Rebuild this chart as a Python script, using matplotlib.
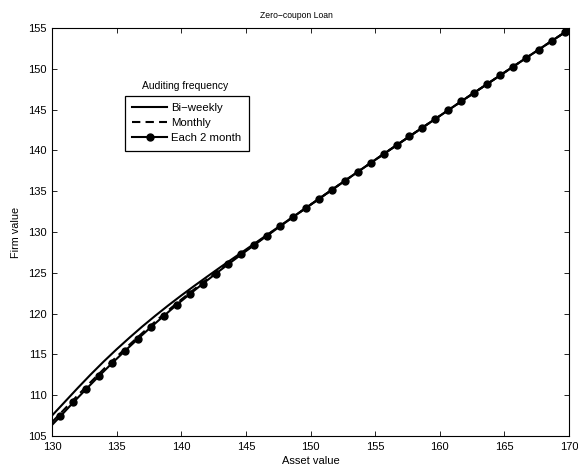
import numpy as np
import matplotlib
matplotlib.use("Agg")
import matplotlib.pyplot as plt

plt.rcParams['font.family'] = ['Liberation Sans', 'DejaVu Sans']

# asset value grid for the bi-weekly and monthly curves
asset = list(range(130, 171))

biweekly = [107.50, 109.20, 110.90, 112.55, 114.13, 115.63, 117.06, 118.44, 119.75, 121.01,
            122.22, 123.39, 124.53, 125.66, 126.76, 127.85, 128.95, 130.05, 131.15, 132.24,
            133.35, 134.45, 135.55, 136.65, 137.75, 138.84, 139.93, 141.01, 142.09, 143.16,
            144.23, 145.30, 146.37, 147.43, 148.49, 149.55, 150.61, 151.67, 152.72, 153.77,
            154.82]

monthly = [106.70, 108.35, 110.00, 111.62, 113.20, 114.72, 116.20, 117.64, 119.04, 120.41,
           121.72, 122.98, 124.21, 125.41, 126.58, 127.73, 128.86, 130.00, 131.12, 132.23,
           133.34, 134.45, 135.55, 136.65, 137.75, 138.84, 139.93, 141.01, 142.09, 143.16,
           144.23, 145.30, 146.37, 147.43, 148.49, 149.55, 150.61, 151.67, 152.72, 153.77,
           154.82]

# each-2-month curve: end points plus the marked samples
asset_2m = [130.0, 130.65, 131.65, 132.65, 133.65, 134.65, 135.65, 136.65, 137.65, 138.65,
            139.65, 140.65, 141.65, 142.65, 143.65, 144.65, 145.65, 146.65, 147.65, 148.65,
            149.65, 150.65, 151.65, 152.65, 153.65, 154.65, 155.65, 156.65, 157.65, 158.65,
            159.65, 160.65, 161.65, 162.65, 163.65, 164.65, 165.65, 166.65, 167.65, 168.65,
            169.65, 170.0]
each2month = [106.35, 107.42, 109.12, 110.76, 112.37, 113.93, 115.44, 116.91, 118.34, 119.72,
              121.08, 122.38, 123.64, 124.87, 126.07, 127.25, 128.41, 129.56, 130.70, 131.83,
              132.95, 134.06, 135.17, 136.27, 137.37, 138.46, 139.55, 140.63, 141.71, 142.79,
              143.86, 144.93, 146.00, 147.06, 148.12, 149.18, 150.24, 151.30, 152.35, 153.40,
              154.45, 154.82]

xticks = [130, 135, 140, 145, 150, 155, 160, 165, 170]
yticks = [105, 110, 115, 120, 125, 130, 135, 140, 145, 150, 155]

fig = plt.figure(figsize=(5.78, 4.68), dpi=100)
ax = fig.add_axes([0.09, 0.0684, 0.8946, 0.8718])

ax.plot(asset, biweekly, color='k', lw=1.5, label='Bi\u2212weekly')
ax.plot(asset, monthly, color='k', lw=1.5, ls=(0, (4, 2.5)), label='Monthly')
ax.plot(asset_2m, each2month, color='k', lw=1.5, marker='o', ms=5,
        markevery=slice(1, -1), label='Each 2 month')

ax.set_xlim(130, 170)
ax.set_ylim(105, 155)
ax.set_xticks(xticks)
ax.set_yticks(yticks)
ax.tick_params(direction='in', length=3.5, width=0.6, labelsize=8, pad=4,
               top=True, right=True)
for s in ax.spines.values():
    s.set_linewidth(0.8)

ax.set_title('Zero\u2212coupon Loan', fontsize=6.2, x=0.472, pad=7)
ax.set_xlabel('Asset value', fontsize=8, labelpad=3)
ax.set_ylabel('Firm value', fontsize=7.8, labelpad=5)

leg = ax.legend(loc='upper left', bbox_to_anchor=(0.141, 0.834), borderaxespad=0,
                fontsize=8.2, handlelength=3.07, handletextpad=0.35, labelspacing=0.45,
                borderpad=0.65, fancybox=False, framealpha=1, edgecolor='k')
leg.get_frame().set_linewidth(0.9)
ax.text(0.257, 0.857, 'Auditing frequency', transform=ax.transAxes,
        ha='center', va='center', fontsize=7.5)

fig.savefig('out.png', dpi=100)
